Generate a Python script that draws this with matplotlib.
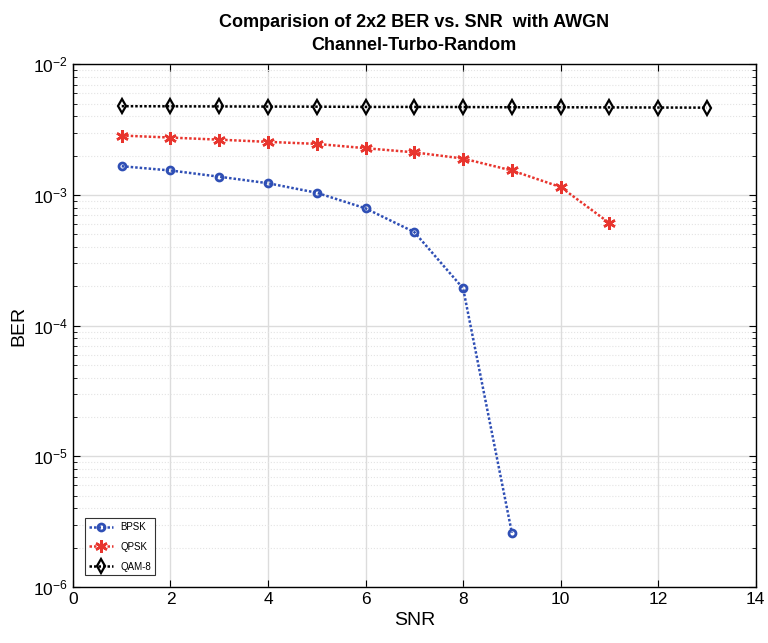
import numpy as np
import matplotlib.pyplot as plt
from matplotlib.ticker import LogLocator, NullFormatter

plt.rcParams['font.family'] = ['Liberation Sans', 'DejaVu Sans']
plt.rcParams['mathtext.fontset'] = 'custom'
plt.rcParams['mathtext.rm'] = 'Liberation Sans'

### data
snr_bpsk = [1, 2, 3, 4, 5, 6, 7, 8, 9]
ber_bpsk = [1.66e-3, 1.54e-3, 1.38e-3, 1.23e-3, 1.04e-3, 7.9e-4, 5.2e-4, 1.93e-4, 2.6e-6]
snr_qpsk = [1, 2, 3, 4, 5, 6, 7, 8, 9, 10, 11]
ber_qpsk = [2.85e-3, 2.75e-3, 2.65e-3, 2.55e-3, 2.46e-3, 2.28e-3, 2.12e-3, 1.90e-3, 1.54e-3, 1.15e-3, 6.1e-4]
snr_qam8 = [1, 2, 3, 4, 5, 6, 7, 8, 9, 10, 11, 12, 13]
ber_qam8 = [4.78e-3, 4.77e-3, 4.76e-3, 4.75e-3, 4.74e-3, 4.72e-3, 4.72e-3, 4.71e-3, 4.69e-3, 4.69e-3, 4.68e-3, 4.67e-3, 4.66e-3]

### plot
fig = plt.figure(figsize=(7.68, 6.43), dpi=100)
ax = fig.add_axes([0.095, 0.087, 0.889, 0.813])

dots = (0, (1, 0.8))
ax.semilogy(snr_bpsk, ber_bpsk, ls=dots, color='#2f4fb5', marker='o', markersize=5, mfc='none',
            mew=2, lw=1.8, label='BPSK')
ax.semilogy(snr_qpsk, ber_qpsk, ls=dots, color='#e8352e', marker=(6, 2, 0), markersize=9,
            mew=1.8, lw=1.8, label='QPSK')
ax.semilogy(snr_qam8, ber_qam8, ls=dots, color='black', marker='d', markersize=7, mfc='none',
            mew=1.6, lw=1.8, label='QAM-8')

ax.set_xlim(0, 14)
ax.set_ylim(1e-6, 1e-2)
ax.set_xticks(np.arange(0, 15, 2))
ax.yaxis.set_major_locator(LogLocator(base=10, numticks=10))
ax.yaxis.set_minor_locator(LogLocator(base=10, subs=np.arange(2, 10), numticks=100))
ax.yaxis.set_minor_formatter(NullFormatter())

ax.grid(True, which='major', color='#dcdcdc', lw=1)
ax.grid(True, which='minor', axis='y', color='#e4e4e4', lw=0.8, ls=':')
ax.set_axisbelow(True)
ax.tick_params(which='both', direction='in', top=True, right=True, labelsize=12.5)
ax.tick_params(which='major', length=5)
ax.tick_params(which='minor', length=3)
for s in ax.spines.values():
  s.set_linewidth(1)

ax.set_xlabel('SNR', fontsize=14)
ax.set_ylabel('BER', fontsize=14)
ax.set_title('Comparision of 2x2 BER vs. SNR  with AWGN\nChannel-Turbo-Random',
             fontsize=13, fontweight='bold', linespacing=1.5, pad=10)

leg = ax.legend(loc='lower left', fontsize=7, fancybox=False, edgecolor='black',
                borderaxespad=1.2, handlelength=2.5, labelspacing=1.0)
leg.get_frame().set_linewidth(0.8)

plt.savefig('out.png', dpi=100)
